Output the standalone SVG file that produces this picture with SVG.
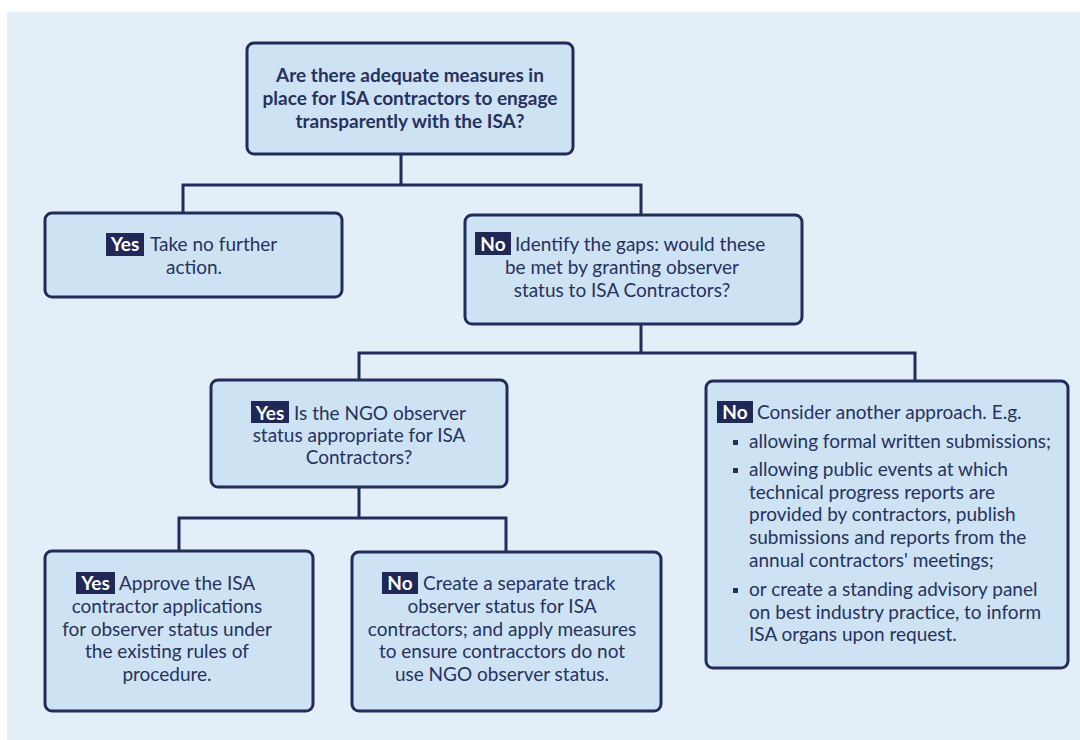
<svg xmlns="http://www.w3.org/2000/svg" width="1080" height="740" viewBox="0 0 1080 740">
<style>
.box{fill:#cde3f3;stroke:#222c5c;stroke-width:3}
.t{font-family:Lato,"Liberation Sans",sans-serif;font-size:19px;fill:#27315e}
.b{font-weight:bold}
.hl{fill:#1f2857}
.w{fill:#ffffff;font-weight:bold;text-anchor:middle}
.c{text-anchor:middle}
.con{fill:none;stroke:#222c5c;stroke-width:3}
.bul{fill:#27315e}
</style>
<rect x="0" y="0" width="1080" height="740" fill="#ffffff"/>
<rect x="7" y="12" width="1073" height="728" fill="#e3eef9"/>
<g id="connectors">
<path class="con" d="M401 154 V185 M183 213 V185 H641 V215"/>
<path class="con" d="M641 324 V353 M359 380 V353 H915 V381"/>
<path class="con" d="M359 487 V518 M179 551 V518 H506 V552"/>
</g>
<g id="q1">
<rect class="box" x="247" y="43" width="326" height="111" rx="7"/>
<text class="t b c" x="410" y="82">Are there adequate measures in</text>
<text class="t b c" x="410" y="105">place for ISA contractors to engage</text>
<text class="t b c" x="410" y="128">transparently with the ISA?</text>
</g>
<g id="yes1">
<rect class="box" x="45" y="213" width="297" height="84" rx="7"/>
<rect class="hl" x="106" y="233" width="38" height="23"/>
<text class="t w" x="125" y="251">Yes</text>
<text class="t" x="150" y="251">Take no further</text>
<text class="t c" x="194" y="274">action.</text>
</g>
<g id="no1">
<rect class="box" x="465" y="215" width="337" height="109" rx="7"/>
<rect class="hl" x="475" y="232" width="36" height="23"/>
<text class="t w" x="493" y="251">No</text>
<text class="t" x="515" y="251">Identify the gaps: would these</text>
<text class="t c" x="622" y="274">be met by granting observer</text>
<text class="t c" x="622" y="297">status to ISA Contractors?</text>
</g>
<g id="yes2">
<rect class="box" x="211" y="380" width="296" height="107" rx="7"/>
<rect class="hl" x="251" y="401" width="38" height="22"/>
<text class="t w" x="270" y="420">Yes</text>
<text class="t" x="294" y="420">Is the NGO observer</text>
<text class="t c" x="359" y="442">status appropriate for ISA</text>
<text class="t c" x="359" y="464">Contractors?</text>
</g>
<g id="no2">
<rect class="box" x="706" y="381" width="362" height="287" rx="7"/>
<rect class="hl" x="717" y="401" width="36" height="22"/>
<text class="t w" x="735" y="419">No</text>
<text class="t" x="757" y="419">Consider another approach. E.g.</text>
<rect class="bul" x="733" y="440" width="5" height="5"/>
<rect class="bul" x="733" y="468" width="5" height="5"/>
<rect class="bul" x="733" y="588" width="5" height="5"/>
<text class="t" x="749" y="448">allowing formal written submissions;</text>
<text class="t" x="749" y="476">allowing public events at which</text>
<text class="t" x="749" y="499">technical progress reports are</text>
<text class="t" x="749" y="521">provided by contractors, publish</text>
<text class="t" x="749" y="544">submissions and reports from the</text>
<text class="t" x="749" y="567">annual contractors' meetings;</text>
<text class="t" x="749" y="596">or create a standing advisory panel</text>
<text class="t" x="749" y="619">on best industry practice, to inform</text>
<text class="t" x="749" y="641">ISA organs upon request.</text>
</g>
<g id="yes3">
<rect class="box" x="45" y="551" width="268" height="160" rx="7"/>
<rect class="hl" x="76" y="572" width="39" height="22"/>
<text class="t w" x="95.5" y="590">Yes</text>
<text class="t" x="119" y="590">Approve the ISA</text>
<text class="t c" x="167" y="613">contractor applications</text>
<text class="t c" x="167" y="636">for observer status under</text>
<text class="t c" x="167" y="658">the existing rules of</text>
<text class="t c" x="167" y="681">procedure.</text>
</g>
<g id="no3">
<rect class="box" x="352" y="552" width="309" height="159" rx="7"/>
<rect class="hl" x="382" y="572" width="36" height="22"/>
<text class="t w" x="400" y="590">No</text>
<text class="t" x="423" y="590">Create a separate track</text>
<text class="t c" x="502" y="613">observer status for ISA</text>
<text class="t c" x="502" y="636">contractors; and apply measures</text>
<text class="t c" x="502" y="658">to ensure contracctors do not</text>
<text class="t c" x="502" y="681">use NGO observer status.</text>
</g>
</svg>
